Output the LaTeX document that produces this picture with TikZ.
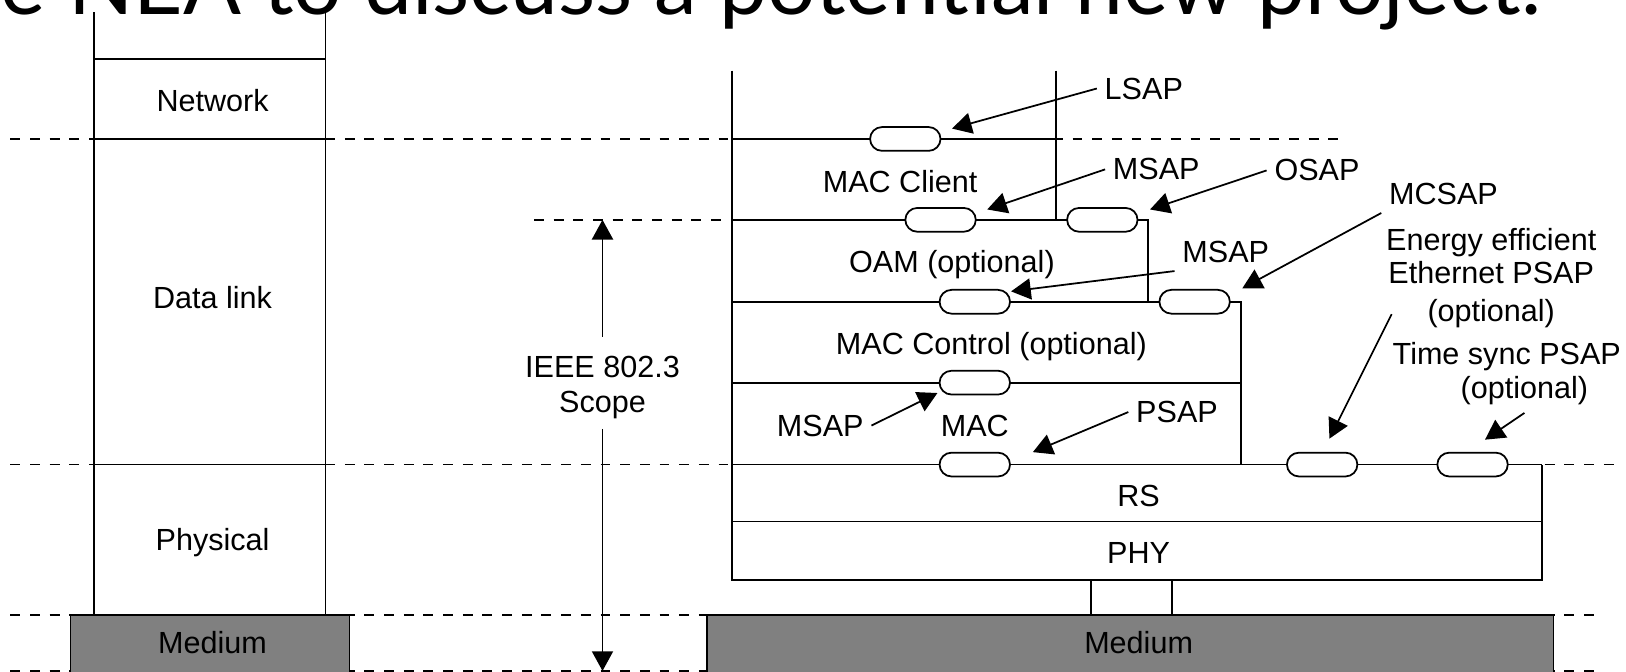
\documentclass[tikz,border=0pt]{standalone}
\usepackage{fontspec}
\setmainfont{Liberation Sans}
\newfontfamily\slidefont{Lato}
\usetikzlibrary{arrows.meta}

\tikzset{
  layertext/.style={anchor=base, inner sep=0pt},
  saplabel/.style={anchor=base, inner sep=2pt},
  sap/.style={draw, fill=white, rounded corners=3.4pt, minimum width=0.705cm,
    minimum height=0.238cm, inner sep=0pt},
  pointer/.style={-{Triangle[length=5.6pt,width=6pt]}},
  levelline/.style={dash pattern=on 2.8pt off 2.8pt},
  medium/.style={fill=black!50}
}

\begin{document}
\begin{tikzpicture}[x=0.01037cm, y=-0.01037cm, line width=0.5pt,
  font=\fontsize{8.7}{9.7}\selectfont]
  % Fix the page size and cut what leaves it
  \useasboundingbox (0,0) rectangle (1568,648);
  \clip (0,0) rectangle (1568,648);

  % Draw the slide title (cut by the top edge)
  \node[anchor=base west, inner sep=0pt, font=\slidefont\fontsize{24.4}{28}\selectfont]
    (title) at (0,14) {e NEA to discuss a potential new project.};

  % Draw the dashed layer boundaries
  \draw[levelline] (10,134) -- (1290,134);
  \draw[levelline] (515,212) -- (706,212);
  \draw[levelline] (10,448) -- (1560,448);
  \draw[levelline] (10,593) -- (1545,593);
  \draw[levelline] (10,647) -- (1545,647);

  % Draw the OSI reference layers
  \draw (91,12) -- (91,593);
  \draw (314,12) -- (314,593);
  \draw (91,57) -- (314,57);
  \draw (91,134) -- (314,134);
  \draw (91,448) -- (314,448);
  \draw[medium] (68,593) rectangle (337,652);
  \node[layertext] (network) at (205,107.5) {Network};
  \node[layertext] (datalink) at (205,297.5) {Data link};
  \node[layertext] (physical) at (205,530.5) {Physical};
  \node[layertext] (osiMedium) at (205,630.5) {Medium};

  % Draw the IEEE 802.3 scope arrow
  \node[layertext] (ieee) at (581,364.5) {IEEE 802.3};
  \node[layertext] (scope) at (581,397.5) {Scope};
  \coordinate (scopeTop) at (581,212);
  \coordinate (scopeBottom) at (581,647);
  \draw[pointer, shorten <=0.19cm] (ieee.north) -- (scopeTop);
  \draw[pointer, shorten <=0.095cm] (scope.south) -- (scopeBottom);

  % Draw the IEEE 802.3 sublayers
  \draw (706,68) -- (706,559) -- (1487,559) -- (1487,448);
  \draw (1018,68) -- (1018,212);
  \draw (706,134) -- (1018,134);
  \draw (706,212) -- (1107,212) -- (1107,291);
  \draw (706,291) -- (1197,291) -- (1197,448);
  \draw (706,369) -- (1197,369);
  \draw (706,448) -- (1487,448);
  \draw (706,503) -- (1487,503);
  \draw (1052,559) rectangle (1130,593);
  \draw[medium] (682,593) rectangle (1498,652);
  \node[layertext] (macClient) at (868,185.5) {MAC Client};
  \node[layertext] (oam) at (918,262.5) {OAM (optional)};
  \node[layertext] (macControl) at (956,341.5) {MAC Control (optional)};
  \node[layertext] (mac) at (940,420.5) {MAC};
  \node[layertext] (rs) at (1098,488.5) {RS};
  \node[layertext] (phy) at (1098,543.5) {PHY};
  \node[layertext] (medium) at (1098,630.5) {Medium};

  % Draw the service access points
  \node[sap] (lsap) at (873,134) {};
  \node[sap] (msapClient) at (907,212) {};
  \node[sap] (osap) at (1063,212) {};
  \node[sap] (msapOam) at (940,291) {};
  \node[sap] (mcsap) at (1152,291) {};
  \node[sap] (msapControl) at (940,369) {};
  \node[sap] (psap) at (940,448) {};
  \node[sap] (eeePsap) at (1275,448) {};
  \node[sap] (tsPsap) at (1420,448) {};

  % Label the service access points
  \node[saplabel] (lsapText) at (1103,95.5) {LSAP};
  \node[saplabel] (msapClientText) at (1115,173.5) {MSAP};
  \node[saplabel] (osapText) at (1270,174.5) {OSAP};
  \node[saplabel] (mcsapText) at (1392,197.5) {MCSAP};
  \node[saplabel] (msapOamText) at (1182,253.5) {MSAP};
  \node[saplabel] (eeeText1) at (1438,241.5) {Energy efficient};
  \node[saplabel] (eeeText2) at (1438,273.5) {Ethernet PSAP};
  \node[saplabel] (eeeText3) at (1438,310.5) {(optional)};
  \node[saplabel] (tsText1) at (1453,351.5) {Time sync PSAP};
  \node[saplabel] (tsText2) at (1470,384.5) {(optional)};
  \node[saplabel] (msapControlText) at (791,420.5) {MSAP};
  \node[saplabel] (psapText) at (1135,407.5) {PSAP};

  % Draw the pointers to the access points
  \coordinate (lsapTip) at (918,124);
  \coordinate (msapClientTip) at (952,202);
  \coordinate (osapTip) at (1109,202);
  \coordinate (mcsapTip) at (1198,278);
  \coordinate (msapOamTip) at (975,281);
  \coordinate (eeeFrom) at (1342,303);
  \coordinate (eeeTip) at (1282,423);
  \coordinate (tsTip) at (1432,424);
  \coordinate (msapControlTip) at (904,379);
  \coordinate (psapTip) at (996,436);
  \draw[pointer] (lsapText.west) -- (lsapTip);
  \draw[pointer] (msapClientText.west) -- (msapClientTip);
  \draw[pointer] (osapText.west) -- (osapTip);
  \draw[pointer] (mcsapText.south west) -- (mcsapTip);
  \draw[pointer] (msapOamText.south west) -- (msapOamTip);
  \draw[pointer] (eeeFrom) -- (eeeTip);
  \draw[pointer] (tsText2.south) -- (tsTip);
  \draw[pointer] (msapControlText.east) -- (msapControlTip);
  \draw[pointer] (psapText.west) -- (psapTip);
\end{tikzpicture}
\end{document}
